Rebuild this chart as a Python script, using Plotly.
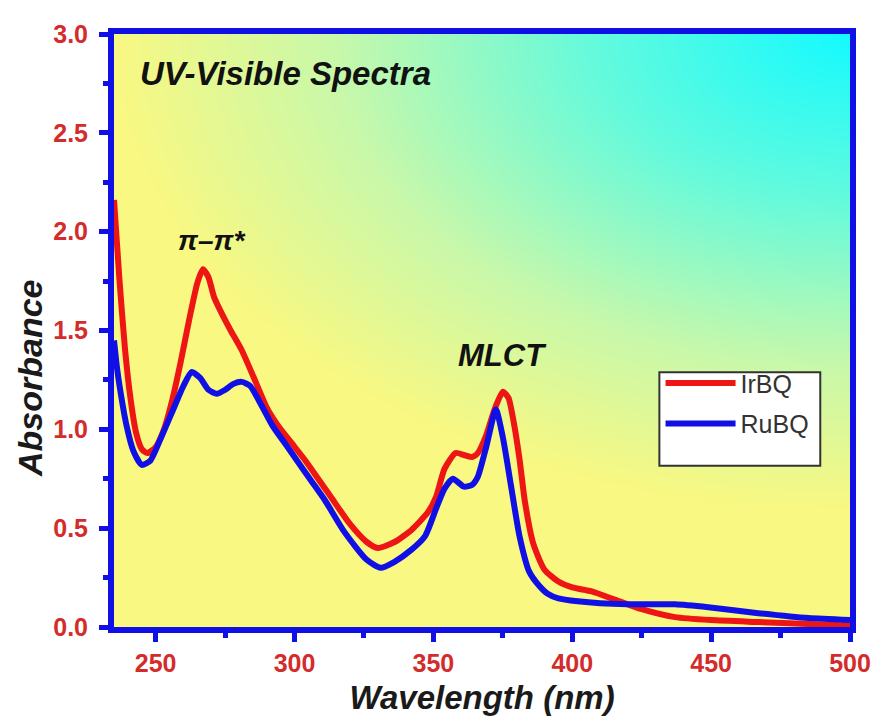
import numpy as np
import plotly.graph_objects as go

# ---- data ----
ir_wl = [235, 237, 239, 241, 243, 245, 247, 250, 253, 256, 259, 262, 265, 267, 269, 271, 274, 277, 281,
         286, 290, 294, 299, 304, 309, 313, 320, 326, 330, 336, 342, 348, 351, 354, 358, 361, 364, 366,
         369, 372, 375, 377, 379, 381, 383, 386, 390, 395, 400, 407, 415, 425, 437, 450, 467, 485, 500]
ir_abs = [2.16, 1.75, 1.40, 1.15, 0.98, 0.90, 0.88, 0.91, 1.00, 1.15, 1.34, 1.55, 1.74, 1.81, 1.77, 1.67, 1.58, 1.50, 1.40,
          1.24, 1.11, 1.02, 0.93, 0.84, 0.74, 0.66, 0.52, 0.43, 0.40, 0.43, 0.49, 0.58, 0.66, 0.80, 0.88, 0.87, 0.86, 0.88,
          0.97, 1.10, 1.19, 1.16, 1.03, 0.85, 0.63, 0.42, 0.29, 0.23, 0.20, 0.18, 0.14, 0.09, 0.05, 0.035, 0.025, 0.015, 0.008]

ru_wl = [235, 236, 237, 239.5, 242, 245, 248, 252, 256, 260, 263, 266, 269, 272, 275, 278, 281, 284, 287,
         292, 297, 301, 306, 311, 318, 326, 331, 336, 342, 347, 351, 354, 357, 361, 364, 366, 369, 372.5,
         375, 378, 381, 384.5, 388, 391, 395, 402, 410, 420, 437, 449, 467, 485, 500]
ru_abs = [1.45, 1.32, 1.22, 1.02, 0.89, 0.82, 0.84, 0.96, 1.09, 1.22, 1.29, 1.26, 1.20, 1.18, 1.20, 1.23, 1.24, 1.22, 1.15,
          1.02, 0.92, 0.84, 0.74, 0.64, 0.48, 0.34, 0.30, 0.33, 0.39, 0.46, 0.60, 0.70, 0.75, 0.71, 0.72, 0.76, 0.91, 1.10,
          0.96, 0.71, 0.46, 0.28, 0.21, 0.17, 0.145, 0.13, 0.12, 0.115, 0.115, 0.10, 0.07, 0.045, 0.035]

series_names = ["IrBQ", "RuBQ"]
x_tick_vals = [250, 300, 350, 400, 450, 500]
y_tick_vals = [0.0, 0.5, 1.0, 1.5, 2.0, 2.5, 3.0]

RED = "#ee1515"
BLUE = "#1010e6"
LABEL_RED = "#d42b2b"
FONT = "Arial, Liberation Sans, sans-serif"

fig = go.Figure()

# background gradient (yellow bottom/left -> cyan top-right)
gx = np.linspace(235, 500, 80)
gy = np.linspace(0, 3, 60)
XN, YN = np.meshgrid((gx - 235) / 265, gy / 3)
r = np.sqrt((1 - XN) ** 2 + ((1 - YN) * 1.25) ** 2)
gz = 1 - np.clip(r, 0, 1)
fig.add_trace(go.Heatmap(
    x=gx, y=gy, z=gz, zmin=0, zmax=1, zsmooth="best", showscale=False, hoverinfo="skip",
    colorscale=[[0, "rgb(248,248,130)"], [0.3, "rgb(200,248,170)"], [0.65, "rgb(100,250,220)"], [1, "rgb(20,250,255)"]],
    showlegend=False,
))

fig.add_trace(go.Scatter(x=ir_wl, y=ir_abs, mode="lines", name=series_names[0],
                         line=dict(color=RED, width=6, shape="spline", smoothing=0.6),
                         legendgroup="a"))
fig.add_trace(go.Scatter(x=ru_wl, y=ru_abs, mode="lines", name=series_names[1],
                         line=dict(color=BLUE, width=6, shape="spline", smoothing=0.6),
                         legendgroup="b"))

axis_common = dict(
    showline=True, linewidth=6, linecolor=BLUE, mirror=True,
    ticks="outside", ticklen=9, tickwidth=5, tickcolor=BLUE,
    showgrid=False, zeroline=False,
    tickfont=dict(family=FONT, size=25, color=LABEL_RED, weight="bold"),
)

fig.update_layout(
    width=875, height=716,
    margin=dict(l=106, r=27, t=18, b=95),
    paper_bgcolor="white", plot_bgcolor="rgb(248,248,130)",
    xaxis=dict(range=[235, 500], tickvals=x_tick_vals,
               minor=dict(dtick=25, tick0=250, ticks="outside", ticklen=5, tickwidth=5, tickcolor=BLUE),
               title=dict(text="Wavelength (nm)", standoff=12,
                          font=dict(family=FONT, size=33, color="#1a1a1a", style="italic", weight="bold")),
               **axis_common),
    yaxis=dict(range=[0, 3], tickvals=y_tick_vals, tickformat=".1f", ticklabelstandoff=6,
               minor=dict(dtick=0.25, tick0=0, ticks="outside", ticklen=5, tickwidth=5, tickcolor=BLUE),
               **axis_common),
    legend=dict(x=0.7426, y=0.45, xanchor="left", yanchor="top", bgcolor="rgba(0,0,0,0)",
                font=dict(family=FONT, size=25, color="#333333"), itemwidth=70, tracegroupgap=5),
    shapes=[dict(type="rect", xref="paper", yref="paper", x0=0.741, x1=0.9596, y0=0.272, y1=0.4295,
                 fillcolor="white", line=dict(color="#333333", width=2))],
    annotations=[
        dict(text="Absorbance", xref="paper", yref="paper", x=-0.1415, y=0.4196, textangle=-90,
             xanchor="left", yanchor="middle", showarrow=False, borderpad=0,
             font=dict(family=FONT, size=34, color="#1a1a1a", style="italic", weight="bold")),
        dict(text="UV-Visible Spectra", xref="paper", yref="paper", x=0.032, y=0.934,
             xanchor="left", yanchor="middle", showarrow=False,
             font=dict(family=FONT, size=33, color="#111111", style="italic", weight="bold")),
        dict(text="π–π*", x=270, y=1.955, xref="x", yref="y", showarrow=False,
             font=dict(family=FONT, size=28, color="#111111", style="italic", weight="bold")),
        dict(text="MLCT", x=375, y=1.373, xref="x", yref="y", showarrow=False,
             font=dict(family=FONT, size=31, color="#111111", style="italic", weight="bold")),
    ],
)

fig.write_html("out.html")
